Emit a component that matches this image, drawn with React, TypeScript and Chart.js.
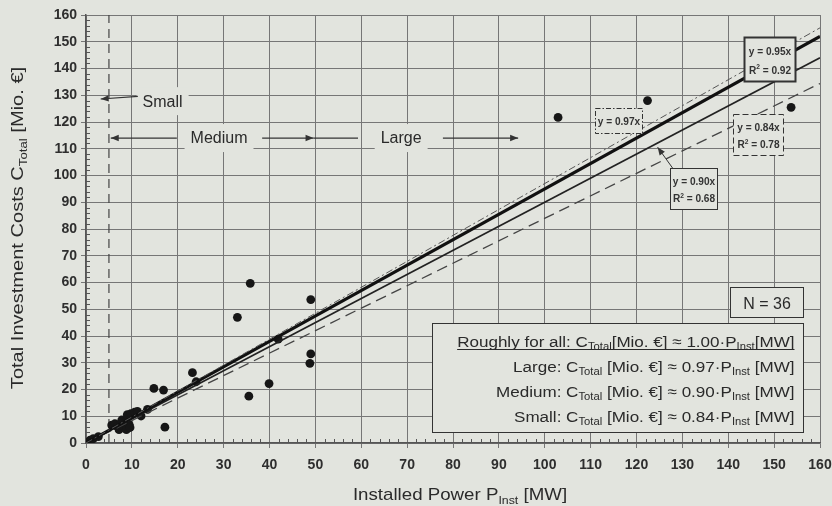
import { useEffect, useRef } from 'react';
import { Chart, registerables } from 'chart.js';

Chart.register(...registerables);

// ---------- data ----------
const powerMW = [
  0.9, 1.6, 2.7, 5.6, 6.3, 6.8, 7.2, 7.6, 7.8, 8.2, 8.6, 8.8, 9.0, 9.4, 9.6, 9.8, 10.6, 11.2,
  12.0, 13.4, 14.8, 16.9, 17.2, 23.2, 24.0, 33.0, 35.5, 35.8, 39.9, 41.9, 48.8, 49.0, 49.0,
  102.9, 122.4, 153.7,
];
const costMio = [
  1.1, 1.6, 2.4, 6.7, 7.2, 6.2, 5.0, 7.4, 8.6, 6.0, 7.8, 5.0, 10.6, 7.0, 5.8, 11.0, 11.5, 11.8,
  10.1, 12.6, 20.4, 19.8, 5.9, 26.3, 22.9, 47.0, 17.5, 59.7, 22.2, 38.8, 29.8, 33.3, 53.6,
  121.7, 128.0, 125.5,
];
const xTickLabels = ['0', '10', '20', '30', '40', '50', '60', '70', '80', '90', '100', '110', '120', '130', '140', '150', '160'];
const yTickLabels = ['0', '10', '20', '30', '40', '50', '60', '70', '80', '90', '100', '110', '120', '130', '140', '150', '160'];
const fitNames = ['Large', 'All', 'Medium', 'Small'];
const fitSlopes = [0.97, 0.95, 0.90, 0.84];
const fitR2 = ['', '0.92', '0.68', '0.78'];
const legendGroups = ['Roughly for all', 'Large', 'Medium', 'Small'];
const legendFactors = ['1.00', '0.97', '0.90', '0.84'];
const sizeClassLabels = ['Small', 'Medium', 'Large'];
const smallLimitMW = 5;

// ---------- styles ----------
const BG = '#e2e4de';
const INK = '#2a2a2a';
const FONT = '"Liberation Sans", Arial, sans-serif';
const NARROW = '"Liberation Sans Narrow", "Liberation Sans", Arial, sans-serif';
const fitStyles = [
  { width: 1, dash: [7, 3, 2, 3], color: '#555' },
  { width: 3.2, dash: [] as number[], color: '#111' },
  { width: 1.6, dash: [] as number[], color: '#222' },
  { width: 1.3, dash: [11, 6], color: '#444' },
];

type Seg = { t: string; sub?: boolean; sup?: boolean };

function setFont(ctx: CanvasRenderingContext2D, size: number, family: string, weight = 'normal') {
  ctx.font = `${weight} ${size}px ${family}`;
}
function segSize(s: Seg, size: number) {
  return s.sub || s.sup ? size * 0.66 : size;
}
function richWidth(ctx: CanvasRenderingContext2D, segs: Seg[], size: number, family: string, weight = 'normal') {
  let w = 0;
  for (const s of segs) {
    setFont(ctx, segSize(s, size), family, weight);
    w += ctx.measureText(s.t).width;
  }
  return w;
}
function drawRich(
  ctx: CanvasRenderingContext2D, segs: Seg[], x: number, y: number,
  align: 'left' | 'center' | 'right', size: number, family: string, weight = 'normal',
  underline = false, sx = 1,
) {
  const w = richWidth(ctx, segs, size, family, weight) * sx;
  const start = align === 'left' ? x : align === 'center' ? x - w / 2 : x - w;
  ctx.save();
  ctx.translate(start, y);
  ctx.scale(sx, 1);
  ctx.textAlign = 'left';
  ctx.textBaseline = 'alphabetic';
  let cx = 0;
  for (const s of segs) {
    setFont(ctx, segSize(s, size), family, weight);
    const dy = s.sub ? size * 0.22 : s.sup ? -size * 0.38 : 0;
    ctx.fillText(s.t, cx, dy);
    cx += ctx.measureText(s.t).width;
  }
  if (underline) {
    ctx.beginPath();
    ctx.lineWidth = 1;
    ctx.moveTo(0, 3);
    ctx.lineTo(cx, 3);
    ctx.stroke();
  }
  ctx.restore();
  return w;
}
function arrow(ctx: CanvasRenderingContext2D, x1: number, y1: number, x2: number, y2: number, head = true) {
  ctx.beginPath();
  ctx.moveTo(x1, y1);
  ctx.lineTo(x2, y2);
  ctx.stroke();
  if (!head) return;
  const a = Math.atan2(y2 - y1, x2 - x1);
  const L = 8, W = 3.2;
  ctx.beginPath();
  ctx.moveTo(x2, y2);
  ctx.lineTo(x2 - L * Math.cos(a) + W * Math.sin(a), y2 - L * Math.sin(a) - W * Math.cos(a));
  ctx.lineTo(x2 - L * Math.cos(a) - W * Math.sin(a), y2 - L * Math.sin(a) + W * Math.cos(a));
  ctx.closePath();
  ctx.fill();
}

// annotation boxes in data coordinates
const fitBoxes = [
  { fit: 0, x0: 111.0, x1: 121.3, y0: 115.8, y1: 125.1, dash: [5, 2, 1.5, 2], lw: 1 },
  { fit: 1, x0: 143.4, x1: 154.6, y0: 135.3, y1: 151.9, dash: [] as number[], lw: 2 },
  { fit: 2, x0: 127.2, x1: 137.6, y0: 87.4, y1: 102.7, dash: [] as number[], lw: 1 },
  { fit: 3, x0: 141.1, x1: 151.9, y0: 107.7, y1: 122.9, dash: [6, 3], lw: 1 },
];

const decor = {
  id: 'decor',
  beforeDraw(chart: any) {
    const { ctx, width, height } = chart;
    ctx.save();
    ctx.fillStyle = BG;
    ctx.fillRect(0, 0, width, height);
    ctx.restore();
  },
  beforeDatasetsDraw(chart: any) {
    const { ctx } = chart;
    const xs = chart.scales.x, ys = chart.scales.y;
    const X = (v: number) => xs.getPixelForValue(v);
    const Y = (v: number) => ys.getPixelForValue(v);
    ctx.save();
    // minor ticks
    ctx.strokeStyle = '#555';
    ctx.lineWidth = 1;
    ctx.beginPath();
    for (let v = 2; v < 160; v += 2) {
      if (v % 10 === 0) continue;
      const px = Math.round(X(v)) + 0.5;
      ctx.moveTo(px, ys.bottom);
      ctx.lineTo(px, ys.bottom - 4);
      const py = Math.round(Y(v)) + 0.5;
      ctx.moveTo(xs.left, py);
      ctx.lineTo(xs.left + 4, py);
    }
    ctx.stroke();

    // size class labels with background patches
    const labelY = [127.8, 114, 114];
    const labelX = [16.7, 29.0, 68.7];
    sizeClassLabels.forEach((t, i) => {
      setFont(ctx, 16, FONT);
      const w = ctx.measureText(t).width;
      const cx = X(labelX[i]), cy = Y(labelY[i]);
      ctx.fillStyle = BG;
      ctx.fillRect(cx - w / 2 - 6, cy - 14, w + 12, 28);
      ctx.fillStyle = INK;
      ctx.textAlign = 'center';
      ctx.textBaseline = 'middle';
      ctx.fillText(t, cx, cy + 1);
    });
    ctx.fillStyle = '#333';
    ctx.strokeStyle = '#333';
    ctx.lineWidth = 1.2;
    arrow(ctx, X(11.3), Y(129.6), X(3.2), Y(128.6));
    arrow(ctx, X(19.8), Y(114), X(5.4), Y(114));
    arrow(ctx, X(38.4), Y(114), X(49.6), Y(114));
    arrow(ctx, X(49.6), Y(114), X(59.3), Y(114), false);
    arrow(ctx, X(77.8), Y(114), X(94.2), Y(114));

    // small / medium boundary
    ctx.strokeStyle = '#444';
    ctx.lineWidth = 1.2;
    ctx.setLineDash([9, 6]);
    ctx.beginPath();
    ctx.moveTo(X(smallLimitMW), Y(0));
    ctx.lineTo(X(smallLimitMW), Y(160));
    ctx.stroke();
    ctx.restore();
  },
  afterDatasetsDraw(chart: any) {
    const { ctx } = chart;
    const xs = chart.scales.x, ys = chart.scales.y;
    const X = (v: number) => xs.getPixelForValue(v);
    const Y = (v: number) => ys.getPixelForValue(v);
    ctx.save();

    const box = (x0: number, x1: number, y0: number, y1: number, lw: number, dash: number[]) => {
      const l = Math.round(X(x0)) + 0.5, r = Math.round(X(x1)) + 0.5;
      const t = Math.round(Y(y1)) + 0.5, b = Math.round(Y(y0)) + 0.5;
      ctx.fillStyle = BG;
      ctx.fillRect(l, t, r - l, b - t);
      ctx.setLineDash(dash);
      ctx.lineWidth = lw;
      ctx.strokeStyle = '#333';
      ctx.strokeRect(l, t, r - l, b - t);
      ctx.setLineDash([]);
      return { l, r, t, b };
    };

    // arrow from the 0.90 box to its line
    ctx.strokeStyle = '#333';
    ctx.fillStyle = '#333';
    ctx.lineWidth = 1;
    arrow(ctx, X(127.9), Y(102.7), X(124.6), Y(110.6));

    fitBoxes.forEach((b) => {
      const r = box(b.x0, b.x1, b.y0, b.y1, b.lw, b.dash);
      const cx = (r.l + r.r) / 2;
      ctx.fillStyle = '#333';
      const eq: Seg[] = [{ t: `y = ${fitSlopes[b.fit].toFixed(2)}x` }];
      if (fitR2[b.fit]) {
        const h = r.b - r.t;
        drawRich(ctx, eq, cx, r.t + h * 0.4, 'center', 11, NARROW, 'bold', false, 0.92);
        drawRich(ctx, [{ t: 'R' }, { t: '2', sup: true }, { t: ' = ' + fitR2[b.fit] }], cx, r.t + h * 0.82, 'center', 11, NARROW, 'bold', false, 0.92);
      } else {
        drawRich(ctx, eq, cx, (r.t + r.b) / 2 + 4, 'center', 11, NARROW, 'bold', false, 0.92);
      }
    });

    // N box
    const nb = box(140.4, 156.4, 47.2, 58.2, 1, []);
    ctx.fillStyle = INK;
    drawRich(ctx, [{ t: `N = ${powerMW.length}` }], (nb.l + nb.r) / 2, (nb.t + nb.b) / 2 + 6, 'center', 16, FONT);

    // legend box
    const lb = box(75.5, 156.4, 4.0, 44.7, 1, []);
    const rowY = [341.5, 367, 392, 416.5];
    ctx.fillStyle = INK;
    ctx.strokeStyle = INK;
    legendGroups.forEach((g, i) => {
      const segs: Seg[] = [
        { t: `${g}: C` }, { t: 'Total', sub: true }, { t: i === 0 ? '[Mio. €] ≈ ' : ' [Mio. €] ≈ ' },
        { t: `${legendFactors[i]}·P` }, { t: 'Inst', sub: true }, { t: i === 0 ? '[MW]' : ' [MW]' },
      ];
      drawRich(ctx, segs, lb.r - 9, rowY[i] + 5, 'right', 15.5, FONT, 'normal', i === 0, 1.1);
    });

    // axis titles
    ctx.fillStyle = INK;
    ctx.save();
    ctx.translate(23, 228);
    ctx.rotate(-Math.PI / 2);
    drawRich(ctx, [{ t: 'Total Investment Costs C' }, { t: 'Total', sub: true }, { t: ' [Mio. €]' }], 0, 0, 'center', 17, FONT, 'normal', false, 1.18);
    ctx.restore();
    drawRich(ctx, [{ t: 'Installed Power P' }, { t: 'Inst', sub: true }, { t: ' [MW]' }], 460, 500, 'center', 17, FONT, 'normal', false, 1.1);

    ctx.restore();
  },
};

export default function App() {
  const ref = useRef<HTMLCanvasElement | null>(null);
  useEffect(() => {
    document.body.style.margin = '0';
    if (!ref.current) return;
    const points = powerMW.map((x, i) => ({ x, y: costMio[i] }));
    const lines = fitSlopes.map((s, i) => ({
      type: 'line' as const,
      label: fitNames[i],
      data: [{ x: 0, y: 0 }, { x: 160, y: 160 * s }],
      borderColor: fitStyles[i].color,
      borderWidth: fitStyles[i].width,
      borderDash: fitStyles[i].dash,
      pointRadius: 0,
      showLine: true,
      fill: false,
      order: 2,
    }));
    const chart = new Chart(ref.current, {
      type: 'scatter',
      data: {
        datasets: [
          {
            label: 'Plants',
            data: points,
            pointRadius: 4.4,
            pointBackgroundColor: '#161616',
            pointBorderWidth: 0,
            borderWidth: 0,
            order: 3,
          } as any,
          ...lines,
        ],
      },
      options: {
        animation: false,
        responsive: false,
        events: [],
        layout: { padding: { left: 0, top: 15, right: 12, bottom: 0 } },
        plugins: { legend: { display: false }, tooltip: { enabled: false } },
        scales: {
          x: {
            type: 'linear',
            min: 0,
            max: 160,
            afterFit: (s: any) => { s.height = 63; s.paddingLeft = 0; s.paddingRight = 0; },
            ticks: {
              stepSize: 10,
              autoSkip: false,
              maxRotation: 0,
              padding: 9,
              color: '#2e2e2e',
              font: { family: FONT, size: 14, weight: 'bold' },
              callback: (_v: any, i: number) => xTickLabels[i],
            },
            grid: { color: '#767676', lineWidth: 1, tickLength: 5 },
            border: { color: '#555', width: 1.5 },
          },
          y: {
            type: 'linear',
            min: 0,
            max: 160,
            afterFit: (s: any) => { s.width = 86; s.paddingTop = 0; s.paddingBottom = 0; },
            ticks: {
              stepSize: 10,
              autoSkip: false,
              padding: 4,
              color: '#2e2e2e',
              font: { family: FONT, size: 14, weight: 'bold' },
              callback: (_v: any, i: number) => yTickLabels[i],
            },
            grid: { color: '#767676', lineWidth: 1, tickLength: 5 },
            border: { color: '#555', width: 1.5 },
          },
        },
      },
      plugins: [decor],
    });
    return () => chart.destroy();
  }, []);
  return (
    <div style={{ position: 'absolute', left: 0, top: 0, width: 832, height: 506 }}>
      <canvas ref={ref} width={832} height={506} style={{ width: 832, height: 506, display: 'block' }} />
    </div>
  );
}
